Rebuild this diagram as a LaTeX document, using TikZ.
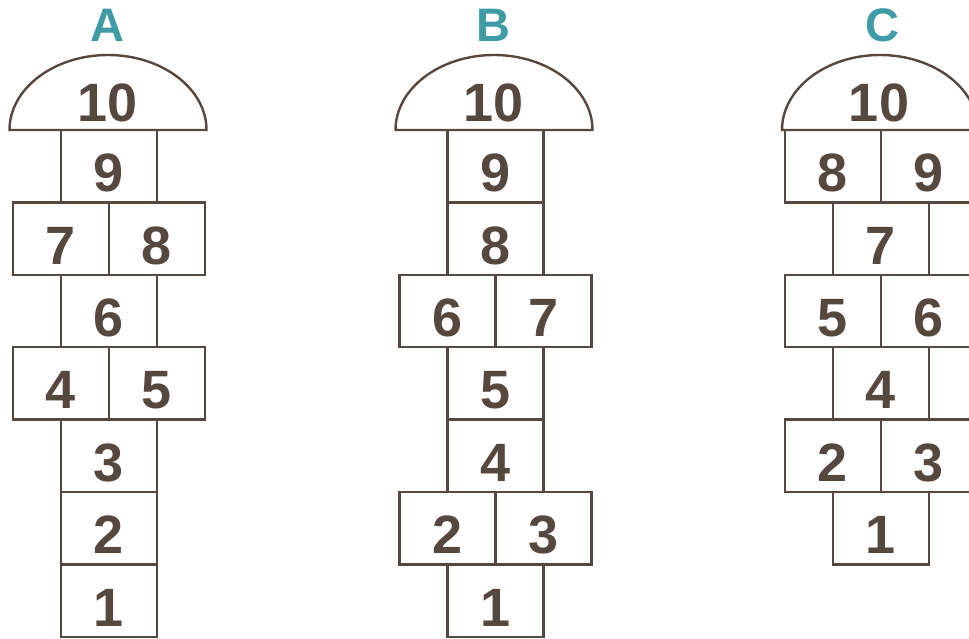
\documentclass[tikz,border=0pt]{standalone}
\usepackage{fontspec}
\setmainfont{Liberation Sans}
\definecolor{ink}{HTML}{56483F}
\definecolor{teal}{HTML}{3F9BA6}
\begin{document}
\begin{tikzpicture}[x=1pt,y=-1pt,
  cell/.style={draw=ink, line width=2.4pt, minimum width=96pt, minimum height=72.4pt,
    inner sep=0pt, text height=51pt, text depth=0pt, text=ink,
    font=\fontsize{54}{54}\bfseries\selectfont},
  domelbl/.style={anchor=base, text=ink, inner sep=0pt, font=\fontsize{54}{54}\bfseries\selectfont},
  title/.style={anchor=base, text=teal, inner sep=0pt, font=\fontsize{47}{47}\bfseries\selectfont},
  dome/.style={draw=ink, line width=2.4pt, line join=miter}]
\useasboundingbox (0,0) rectangle (969,639);
\clip (0,0) rectangle (969,639);
% ---------- A ----------
\node[title] (tA) at (107,42) {A};
\draw[dome] (9.5,130) .. controls (9.5,88.6) and (54,55) .. (108,55) .. controls (162,55) and (206.5,88.6) .. (206.5,130) -- cycle;
\node[domelbl] (a10) at (108,122) {10};
\node[cell] (a9) at (109,166.2) {9};
\node[cell] (a7) at (61,238.6) {7};
\node[cell] (a8) at (157,238.6) {8};
\node[cell] (a6) at (109,311) {6};
\node[cell] (a4) at (61,383.4) {4};
\node[cell] (a5) at (157,383.4) {5};
\node[cell] (a3) at (109,455.8) {3};
\node[cell] (a2) at (109,528.2) {2};
\node[cell] (a1) at (109,600.6) {1};
% ---------- B ----------
\node[title] (tB) at (493,42) {B};
\draw[dome] (395.5,130) .. controls (395.5,88.6) and (440,55) .. (494,55) .. controls (548,55) and (592.5,88.6) .. (592.5,130) -- cycle;
\node[domelbl] (b10) at (494,122) {10};
\node[cell] (b9) at (495.5,166.2) {9};
\node[cell] (b8) at (495.5,238.6) {8};
\node[cell] (b6) at (447.5,311) {6};
\node[cell] (b7) at (543.5,311) {7};
\node[cell] (b5) at (495.5,383.4) {5};
\node[cell] (b4) at (495.5,455.8) {4};
\node[cell] (b2) at (447.5,528.2) {2};
\node[cell] (b3) at (543.5,528.2) {3};
\node[cell] (b1) at (495.5,600.6) {1};
% ---------- C ----------
\node[title] (tC) at (882,42) {C};
\draw[dome] (782,130) .. controls (782,88.6) and (826,55) .. (880,55) .. controls (934,55) and (978,88.6) .. (978,130) -- cycle;
\node[domelbl] (c10) at (879,122) {10};
\node[cell] (c8) at (833,166.2) {8};
\node[cell] (c9) at (929,166.2) {9};
\node[cell] (c7) at (881,238.6) {7};
\node[cell] (c5) at (833,311) {5};
\node[cell] (c6) at (929,311) {6};
\node[cell] (c4) at (881,383.4) {4};
\node[cell] (c2) at (833,455.8) {2};
\node[cell] (c3) at (929,455.8) {3};
\node[cell] (c1) at (881,528.2) {1};
\end{tikzpicture}
\end{document}
